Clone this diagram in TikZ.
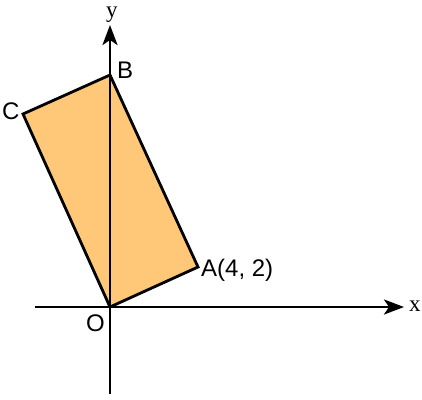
\documentclass[tikz,border=0pt]{standalone}
\usepackage{fontspec}
\setmainfont{Liberation Sans}
\newfontfamily\serifaxis{Liberation Serif}
\usetikzlibrary{arrows.meta}
\definecolor{fillorange}{RGB}{254,200,120}
\begin{document}
\begin{tikzpicture}[x=1pt,y=-1pt,
  axis/.style={line width=2.8pt,-{Stealth[length=20pt,width=15pt,inset=5pt]}},
  edge/.style={line width=2.8pt,line join=miter},
  lbl/.style={font=\fontsize{24}{24}\selectfont,inner sep=0pt,anchor=base west},
  axlbl/.style={font=\serifaxis\fontsize{23}{23}\selectfont,inner sep=0pt,anchor=base west}]
\useasboundingbox (0,0) rectangle (422,399);
\coordinate (O) at (110,307);
\coordinate (A) at (198,267);
\coordinate (B) at (110,75);
\coordinate (C) at (23,114);
\coordinate (xs) at (35,307);
\coordinate (xe) at (404,307);
\coordinate (ys) at (110,394);
\coordinate (ye) at (110,25);
\fill[fillorange] (O) -- (A) -- (B) -- (C) -- cycle;
\draw[axis] (xs) -- (xe);
\draw[axis] (ys) -- (ye);
\draw[edge] (O) -- (A) -- (B) -- (C) -- cycle;
\node[lbl] (Al) at (201,276) {A(4, 2)};
\node[lbl] (Bl) at (117,78) {B};
\node[lbl] (Cl) at (2,119) {C};
\node[lbl] (Ol) at (86,331) {O};
\node[axlbl] (xl) at (409,311) {x};
\node[axlbl] (yl) at (106,17) {y};
\end{tikzpicture}
\end{document}
